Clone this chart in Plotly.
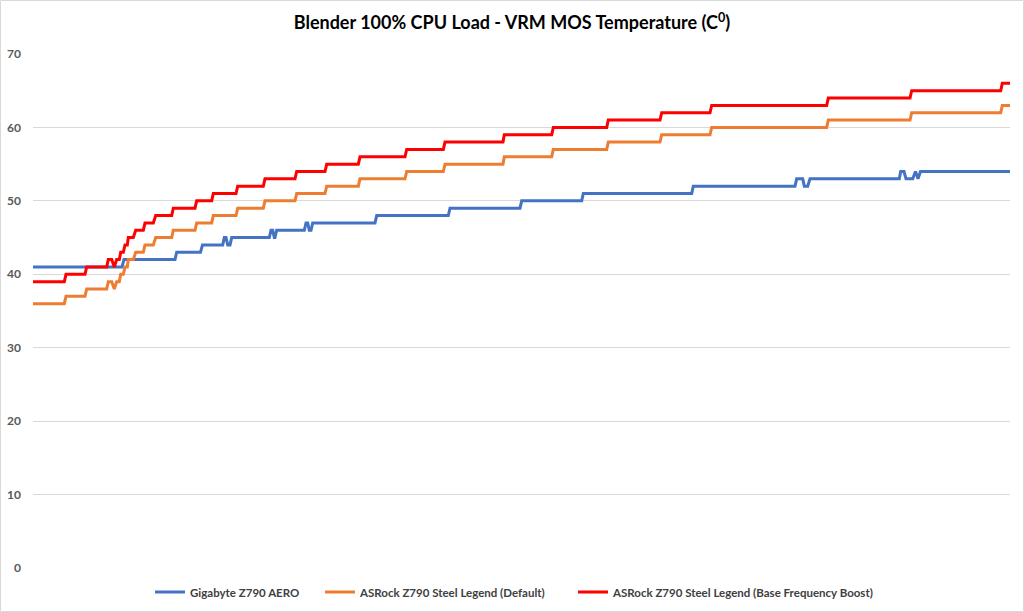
import plotly.graph_objects as go

# Time axis: sample position (arbitrary units, axis hidden)
giga_t = [0, 89, 91, 142, 143.7, 167.5, 169.5, 189.7, 191.3, 193, 194.7, 197, 198.7,
          236.3, 238, 239.7, 241.3, 242, 243.7, 271.3, 273, 274.7, 276.3, 278, 279.7,
          342, 343.7, 415.3, 417, 487, 488.7, 548.7, 550.3, 658.7, 660.3, 762, 763.7,
          769.7, 771.3, 774.7, 777, 866.3, 867.7, 871, 873, 879.7, 882.5, 885, 887.5, 977]
giga_v = [41, 41, 42, 42, 43, 43, 44, 44, 45, 45, 44, 44, 45,
          45, 46, 46, 45, 45, 46, 46, 47, 47, 46, 46, 47,
          47, 48, 48, 49, 49, 50, 50, 51, 51, 52, 52, 53,
          53, 52, 52, 53, 53, 54, 54, 53, 53, 54, 53, 54, 54]

asrock_t = [0, 31.3, 33, 52, 53.7, 73.7, 75.3, 78.7, 81.3, 83.7, 86.3, 87.7, 90.3, 92,
            94.3, 95.3, 100.3, 102.7, 110.3, 112, 120.3, 122.7, 138.7, 140.3, 162, 163.7,
            178.7, 180.3, 203, 204.7, 230.3, 232, 262, 263.7, 292, 293.7, 325.3, 327,
            372, 373.7, 410.3, 412, 470, 471.3, 518.7, 520.3, 573.7, 575.3, 627, 628.7,
            677, 678.7, 793.7, 795.3, 877, 878.7, 967.7, 969.3, 977]
asrock_v = [36, 36, 37, 37, 38, 38, 39, 39, 38, 39, 39, 40, 40, 41,
            41, 42, 42, 43, 43, 44, 44, 45, 45, 46, 46, 47,
            47, 48, 48, 49, 49, 50, 50, 51, 51, 52, 52, 53,
            53, 54, 54, 55, 55, 56, 56, 57, 57, 58, 58, 59,
            59, 60, 60, 61, 61, 62, 62, 63, 63]

boost_t = [0, 31.3, 33, 52, 53.7, 73.7, 75.3, 78.7, 81.3, 83.7, 86.3, 87.7, 90.3, 92,
           94.3, 95.3, 100.3, 102.7, 110.3, 112, 120.3, 122.7, 138.7, 140.3, 162, 163.7,
           178.7, 180.3, 203, 204.7, 230.3, 232, 262, 263.7, 292, 293.7, 325.3, 327,
           372, 373.7, 410.3, 412, 470, 471.3, 518.7, 520.3, 573.7, 575.3, 627, 628.7,
           677, 678.7, 793.7, 795.3, 877, 878.7, 967.7, 969.3, 977]
boost_v = [39, 39, 40, 40, 41, 41, 42, 42, 41, 42, 42, 43, 43, 44,
           44, 45, 45, 46, 46, 47, 47, 48, 48, 49, 49, 50,
           50, 51, 51, 52, 52, 53, 53, 54, 54, 55, 55, 56,
           56, 57, 57, 58, 58, 59, 59, 60, 60, 61, 61, 62,
           62, 63, 63, 64, 64, 65, 65, 66, 66]

series_names = ["Gigabyte Z790 AERO",
                "ASRock Z790 Steel Legend (Default)",
                "ASRock Z790 Steel Legend (Base Frequency Boost)"]
colors = ["#4472C4", "#ED7D31", "#FF0000"]
y_ticks = [0, 10, 20, 30, 40, 50, 60, 70]
title_text = "Blender 100% CPU Load - VRM MOS Temperature (C<sup>0</sup>)"

FONT = "Lato"

ml, mr, mt, mb = 33, 14, 54, 44
W, H = 1024, 612
pw, ph = W - ml - mr, H - mt - mb

legend_ids = ["legend", "legend2", "legend3"]
legend_px = [157, 327, 580]  # left edge of each legend sample line (px)

fig = go.Figure()
for (t, v), name, c, lg in zip([(giga_t, giga_v), (asrock_t, asrock_v), (boost_t, boost_v)],
                               series_names, colors, legend_ids):
    fig.add_trace(go.Scatter(x=t, y=v, mode="lines", name=name, legend=lg,
                             line=dict(color=c, width=3)))

legend_style = dict(orientation="h", xanchor="left", y=-24 / ph, yanchor="middle",
                    font=dict(family=FONT, size=11.5, color="#404040", weight="bold"),
                    itemwidth=30, bgcolor="rgba(0,0,0,0)", borderwidth=0)
legends = {}
for lg, px in zip(legend_ids, legend_px):
    legends[lg] = dict(legend_style, x=(px - 7 - ml) / pw)

fig.update_layout(
    width=W, height=H,
    margin=dict(l=ml, r=mr, t=mt, b=mb, autoexpand=False),
    paper_bgcolor="white", plot_bgcolor="white",
    title=dict(text=title_text, x=0.5, xref="container", xanchor="center",
               y=1 - 23 / H, yref="container", yanchor="middle",
               font=dict(family=FONT, size=18, color="#000000", weight="bold")),
    xaxis=dict(range=[0, 977], showgrid=False, showticklabels=False,
               zeroline=False, showline=False, ticks="", automargin=False),
    yaxis=dict(range=[0, 70], tickvals=y_ticks, showgrid=True,
               gridcolor="#D9D9D9", gridwidth=1, zeroline=False, automargin=False,
               showline=False, ticks="", ticklabelstandoff=11,
               tickfont=dict(family=FONT, size=12, color="#595959", weight="bold")),
    showlegend=True,
    shapes=[dict(type="rect", xref="paper", yref="paper",
                 x0=(0.5 - ml) / pw, x1=(W - 0.5 - ml) / pw,
                 y0=-(mb - 0.5) / ph, y1=1 + (mt - 0.5) / ph,
                 line=dict(color="#D9D9D9", width=1), layer="below")],
    **legends,
)

fig.write_html("out.html", config={"displayModeBar": False},
               post_script="document.body.style.margin='0';")
